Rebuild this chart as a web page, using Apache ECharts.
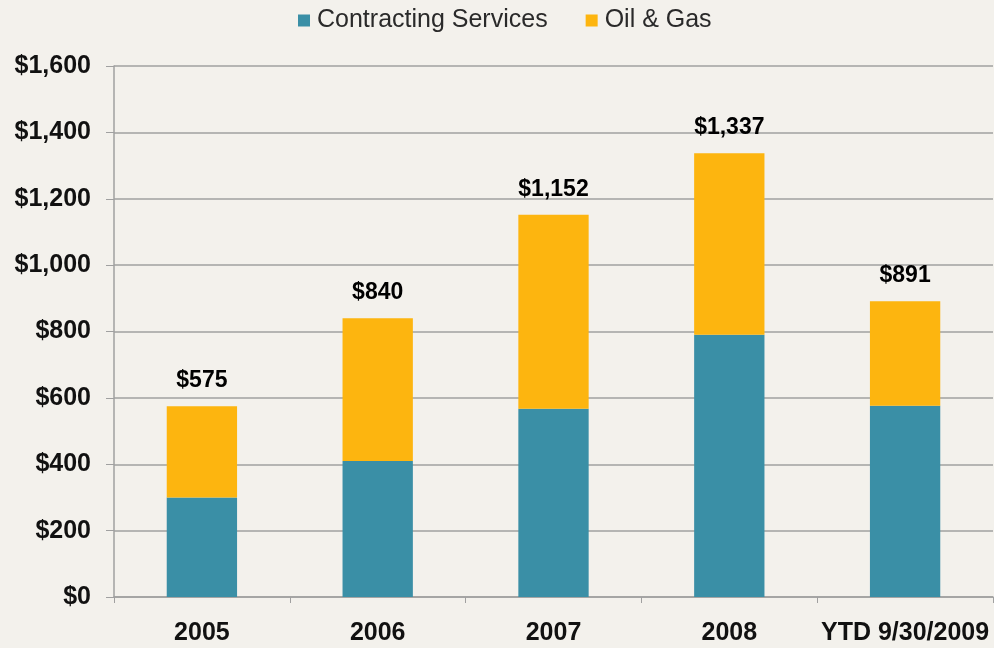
<!DOCTYPE html>
<html>
<head>
<meta charset="utf-8">
<script src="https://cdn.jsdelivr.net/npm/echarts@6/dist/echarts.min.js"></script>
<style>
html,body{margin:0;padding:0;background:#F3F1EC;}
#chart{width:994px;height:648px;}
</style>
</head>
<body>
<div id="chart"></div>
<script>
const categories = ['2005', '2006', '2007', '2008', 'YTD 9/30/2009'];
const contracting = [300, 410, 567, 790, 576];
const oilGas = [275, 430, 585, 547, 315];
const totals = [575, 840, 1152, 1337, 891];
const yTicks = [0, 200, 400, 600, 800, 1000, 1200, 1400, 1600];

const fmt = v => '$' + v.toLocaleString('en-US');
const chart = echarts.init(document.getElementById('chart'));
chart.setOption({
  backgroundColor: '#F3F1EC',
  animation: false,
  textStyle: { fontFamily: 'Liberation Sans, Arial, sans-serif' },
  legend: {
    top: 3,
    left: 298,
    padding: [5, 0, 5, 0],
    itemWidth: 12,
    itemHeight: 12,
    itemGap: 38,
    icon: 'rect',
    textStyle: { fontSize: 25, color: '#2a2a2a', padding: [0, 0, 0, 2], fontFamily: 'Liberation Sans, Arial, sans-serif' },
    data: ['Contracting Services', 'Oil & Gas']
  },
  grid: { left: 114, right: 1, top: 66, bottom: 51, containLabel: false },
  xAxis: {
    type: 'category',
    data: categories,
    axisLine: { lineStyle: { color: '#A0A0A0', width: 1.5 } },
    axisTick: { show: true, length: 6, lineStyle: { color: '#A0A0A0' } },
    axisLabel: { interval: 0, hideOverlap: false, fontSize: 25, fontWeight: 'bold', color: '#111', margin: 24 }
  },
  yAxis: {
    type: 'value',
    min: 0,
    max: 1600,
    interval: 200,
    axisLine: { show: true, lineStyle: { color: '#A0A0A0', width: 1.5 } },
    axisTick: { show: true, length: 8, lineStyle: { color: '#A0A0A0' } },
    splitLine: { lineStyle: { color: '#A0A0A0', width: 1.5 } },
    axisLabel: {
      fontSize: 25, fontWeight: 'bold', color: '#111', margin: 23,
      formatter: v => yTicks.includes(v) ? fmt(v) : ''
    }
  },
  series: [
    {
      name: 'Contracting Services',
      type: 'bar',
      stack: 'total',
      data: contracting,
      barWidth: '40%',
      itemStyle: { color: '#3A8FA6' }
    },
    {
      name: 'Oil & Gas',
      type: 'bar',
      stack: 'total',
      data: oilGas,
      barWidth: '40%',
      itemStyle: { color: '#FDB50F' },
      label: {
        show: true,
        position: 'top',
        distance: 14,
        fontSize: 23,
        fontWeight: 'bold',
        color: '#000',
        formatter: p => fmt(totals[p.dataIndex])
      }
    }
  ]
});
</script>
</body>
</html>
